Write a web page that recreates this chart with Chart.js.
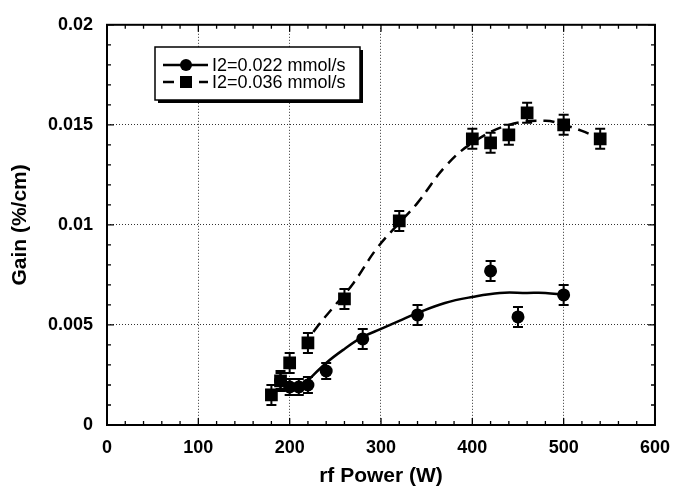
<!DOCTYPE html>
<html><head><meta charset="utf-8">
<script src="https://cdn.jsdelivr.net/npm/chart.js@4/dist/chart.umd.min.js"></script>
<style>html,body{margin:0;padding:0;background:#fff;}#wrap{width:682px;height:489px;position:relative;}</style>
</head><body><div id="wrap"><canvas id="c" width="682" height="489"></canvas></div>
<script>
const seriesNames = ['I2=0.022 mmol/s', 'I2=0.036 mmol/s'];
const xTitle = 'rf Power (W)';
const yTitle = 'Gain (%/cm)';
const xTickValues = [0, 100, 200, 300, 400, 500, 600];
const yTickValues = [0, 0.005, 0.01, 0.015, 0.02];

const powerLow = [190, 200, 210, 220, 240, 280, 340, 420, 450, 500];
const gainLow  = [0.0022, 0.0019, 0.0019, 0.0020, 0.0027, 0.0043, 0.0055, 0.0077, 0.0054, 0.0065];
const errLow   = [0.0004, 0.0004, 0.0004, 0.0004, 0.0004, 0.0005, 0.0005, 0.0005, 0.0005, 0.0005];

const powerHigh = [180, 190, 200, 220, 260, 320, 400, 420, 440, 460, 500, 540];
const gainHigh  = [0.0015, 0.0022, 0.0031, 0.0041, 0.0063, 0.0102, 0.0143, 0.0141, 0.0145, 0.0156, 0.0150, 0.0143];
const errHigh   = [0.0005, 0.0005, 0.0005, 0.0005, 0.0005, 0.0005, 0.0005, 0.0005, 0.0005, 0.0005, 0.0005, 0.0005];

const fitLowX = [217, 240, 260, 280, 300, 320, 340, 370, 400, 430, 460, 480, 500];
const fitLowY = [0.0021, 0.0031, 0.0038, 0.0044, 0.0048, 0.0052, 0.0056, 0.0061, 0.0064, 0.0066, 0.0066, 0.0066, 0.0065];

const fitHighX = [215, 230, 250, 270, 295, 320, 340, 370, 400, 440, 480, 500, 520, 540];
const fitHighY = [0.0039, 0.0049, 0.0060, 0.0071, 0.0088, 0.0101, 0.0111, 0.0129, 0.0141, 0.0150, 0.0152, 0.0150, 0.0147, 0.0143];

const toPts = (xs, ys) => xs.map((x, i) => ({x: x, y: ys[i]}));

const FONT = '"Liberation Sans", Arial, sans-serif';

const framePlugin = {
  id: 'frame',
  afterDatasetsDraw(chart) {
    const ctx = chart.ctx;
    const xs = chart.scales.x, ys = chart.scales.y;
    const a = chart.chartArea;
    ctx.save();
    // error bars
    const drawErr = (xv, yv, ev) => {
      ctx.strokeStyle = '#000';
      ctx.lineWidth = 2;
      xv.forEach((x, i) => {
        const px = xs.getPixelForValue(x);
        const p1 = ys.getPixelForValue(yv[i] + ev[i]);
        const p2 = ys.getPixelForValue(yv[i] - ev[i]);
        ctx.beginPath();
        ctx.moveTo(px, p1); ctx.lineTo(px, p2);
        ctx.moveTo(px - 5, p1); ctx.lineTo(px + 5, p1);
        ctx.moveTo(px - 5, p2); ctx.lineTo(px + 5, p2);
        ctx.stroke();
      });
    };
    drawErr(powerLow, gainLow, errLow);
    drawErr(powerHigh, gainHigh, errHigh);

    // frame
    ctx.strokeStyle = '#000';
    ctx.lineWidth = 2;
    ctx.strokeRect(a.left, a.top, a.right - a.left, a.bottom - a.top);
    // ticks (inward), major + minor
    ctx.lineWidth = 1.3;
    ctx.beginPath();
    for (let v = xs.min; v <= xs.max + 1e-9; v += 20) {
      const px = xs.getPixelForValue(v);
      const major = Math.abs(v % 100) < 1e-9;
      const len = major ? 7 : 4;
      ctx.moveTo(px, a.bottom); ctx.lineTo(px, a.bottom - len);
      ctx.moveTo(px, a.top); ctx.lineTo(px, a.top + len);
    }
    for (let k = 0; k <= 20; k++) {
      const v = k * 0.001;
      const py = ys.getPixelForValue(v);
      const major = k % 5 === 0;
      const len = major ? 7 : 4;
      ctx.moveTo(a.left, py); ctx.lineTo(a.left + len, py);
      ctx.moveTo(a.right, py); ctx.lineTo(a.right - len, py);
    }
    ctx.stroke();

    // legend
    const bx = 155, by = 47, bw = 205, bh = 53;
    ctx.fillStyle = '#000';
    ctx.fillRect(bx + 3, by + 3, bw, bh);
    ctx.fillStyle = '#fff';
    ctx.fillRect(bx, by, bw, bh);
    ctx.lineWidth = 1.5;
    ctx.strokeRect(bx, by, bw, bh);
    const rows = [by + 18, by + 35];
    ctx.lineWidth = 2.5;
    // row 1 solid
    ctx.beginPath(); ctx.moveTo(163, rows[0]); ctx.lineTo(208, rows[0]); ctx.stroke();
    ctx.fillStyle = '#000';
    ctx.beginPath(); ctx.arc(186, rows[0], 6, 0, Math.PI * 2); ctx.fill();
    // row 2 dashed
    ctx.setLineDash([11, 7]);
    ctx.beginPath(); ctx.moveTo(163, rows[1]); ctx.lineTo(208, rows[1]); ctx.stroke();
    ctx.setLineDash([]);
    ctx.fillStyle = '#fff';
    ctx.fillRect(177, rows[1] - 8, 18, 16);
    ctx.fillStyle = '#000';
    ctx.fillRect(180, rows[1] - 6, 12, 12);
    ctx.font = '18px ' + FONT;
    ctx.textBaseline = 'middle';
    ctx.textAlign = 'left';
    ctx.fillText(seriesNames[0], 212, rows[0] + 1);
    ctx.fillText(seriesNames[1], 212, rows[1] + 1);
    ctx.restore();
  }
};

new Chart(document.getElementById('c'), {
  type: 'scatter',
  data: {
    datasets: [
      { label: seriesNames[0] + ' fit', type: 'line', data: toPts(fitLowX, fitLowY), borderColor: '#000', borderWidth: 2.5, pointRadius: 0, tension: 0.4, fill: false },
      { label: seriesNames[1] + ' fit', type: 'line', data: toPts(fitHighX, fitHighY), borderColor: '#000', borderWidth: 2.5, borderDash: [11, 7], pointRadius: 0, tension: 0.4, fill: false },
      { label: seriesNames[0], data: toPts(powerLow, gainLow), pointStyle: 'circle', pointRadius: 6.5, backgroundColor: '#000', borderColor: '#000', borderWidth: 0 },
      { label: seriesNames[1], data: toPts(powerHigh, gainHigh), pointStyle: 'rect', pointRadius: 9, backgroundColor: '#000', borderColor: '#000', borderWidth: 0 }
    ]
  },
  options: {
    responsive: false,
    animation: false,
    devicePixelRatio: 1,
    layout: { padding: { left: 0, right: 14, top: 21, bottom: 0 } },
    plugins: { legend: { display: false }, tooltip: { enabled: false } },
    scales: {
      x: {
        type: 'linear', min: 0, max: 600,
        afterFit(s) { s.height = 64; },
        afterBuildTicks(s) { s.ticks = xTickValues.map(v => ({value: v})); },
        ticks: { color: '#000', font: { family: FONT, size: 18, weight: 'bold' }, padding: 12, maxRotation: 0 },
        grid: { drawTicks: false, lineWidth: 1, color: c => (c.tick && (c.tick.value === 0 || c.tick.value === 600)) ? 'rgba(0,0,0,0)' : '#333' },
        border: { display: false, dash: [1, 2] },
        title: { display: true, text: xTitle, color: '#000', font: { family: FONT, size: 21, weight: 'bold' }, padding: { top: 0, bottom: 0 } }
      },
      y: {
        type: 'linear', min: 0, max: 0.02,
        afterFit(s) { s.width = 107; },
        afterBuildTicks(s) { s.ticks = yTickValues.map(v => ({value: v})); },
        ticks: { color: '#000', font: { family: FONT, size: 18, weight: 'bold' }, padding: 14, callback: v => String(v) },
        grid: { drawTicks: false, lineWidth: 1, color: c => (c.tick && (c.tick.value === 0 || Math.abs(c.tick.value - 0.02) < 1e-9)) ? 'rgba(0,0,0,0)' : '#333' },
        border: { display: false, dash: [1, 2] },
        title: { display: true, text: yTitle, color: '#000', font: { family: FONT, size: 21, weight: 'bold' }, padding: { top: 8, bottom: 0 } }
      }
    }
  },
  plugins: [framePlugin]
});
</script></body></html>
